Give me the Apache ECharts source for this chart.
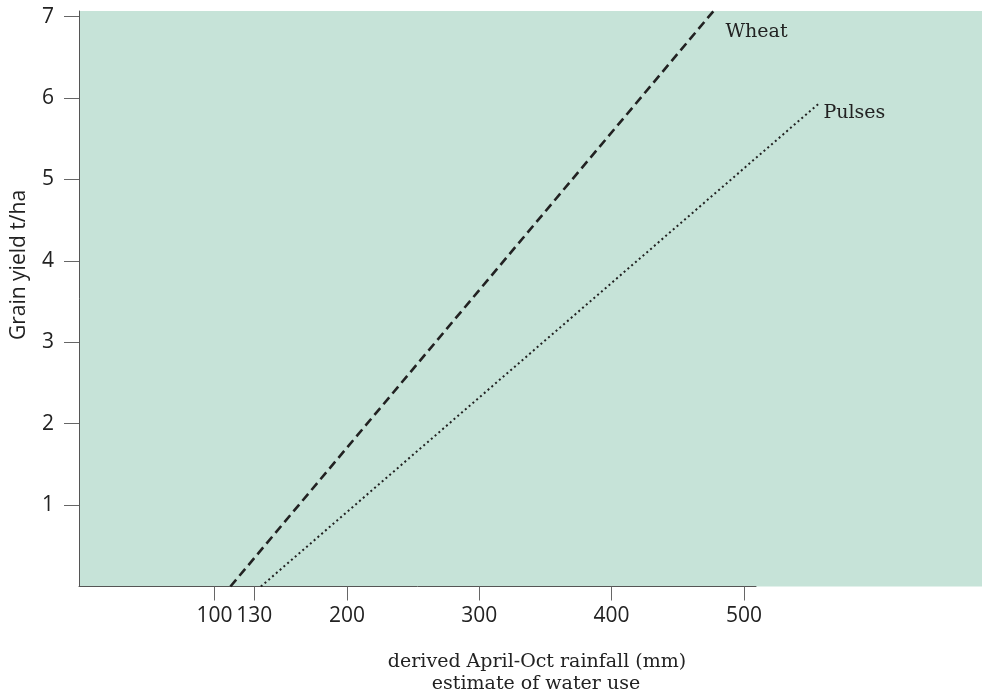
<!DOCTYPE html>
<html>
<head>
<meta charset="utf-8">
<script src="https://cdn.jsdelivr.net/npm/echarts@6/dist/echarts.min.js"></script>
<style>html,body{margin:0;padding:0;background:#fff}#c{width:982px;height:695px}</style>
</head>
<body>
<div id="c"></div>
<script>
// Data
const seriesNames = ['Wheat', 'Pulses'];
const wheatX = [112, 477];
const wheatY = [0, 7.07];
const pulsesX = [135, 557];
const pulsesY = [0, 5.94];
const xTickValues = [100, 130, 200, 300, 400, 500];
const yTickValues = [1, 2, 3, 4, 5, 6, 7];
const xTitleLines = ['derived April-Oct rainfall (mm)', 'estimate of water use'];
const yTitle = 'Grain yield t/ha';

const X_MIN = -2.4, X_MAX_AXIS = 509.1, X_MAX_BG = 679.8;
const Y_MIN = 0, Y_MAX = 7.07;

function pts(xs, ys) { return xs.map((x, i) => [x, ys[i]]); }
function withEndLabel(data, name, offset) {
  return data.map((p, i) => i === data.length - 1
    ? { value: p, label: { show: true, position: 'right', formatter: name, offset: offset,
        fontFamily: 'DejaVu Serif', fontSize: 19, color: '#222' } }
    : { value: p });
}

const chart = echarts.init(document.getElementById('c'), null, { renderer: 'canvas' });
chart.setOption({
  animation: false,
  backgroundColor: '#ffffff',
  grid: [
    { left: 79, right: 0, top: 11, bottom: 108.5, show: true, backgroundColor: '#c6e3d8', borderWidth: 0 },
    { left: 79, right: 226, top: 11, bottom: 108.5, show: false }
  ],
  xAxis: [
    { type: 'value', gridIndex: 0, min: X_MIN, max: X_MAX_BG, show: false, splitLine: { show: false } },
    { type: 'value', gridIndex: 1, min: X_MIN, max: X_MAX_AXIS, splitLine: { show: false },
      axisLine: { show: true, onZero: false, lineStyle: { color: '#555', width: 1 } },
      axisTick: { show: true, length: 14, customValues: xTickValues, lineStyle: { color: '#666', width: 1 } },
      axisLabel: { show: true, customValues: xTickValues, margin: 19, fontFamily: 'Open Sans', fontSize: 21, color: '#222' } }
  ],
  yAxis: [
    { type: 'value', gridIndex: 0, min: Y_MIN, max: Y_MAX, show: false, splitLine: { show: false } },
    { type: 'value', gridIndex: 1, min: Y_MIN, max: Y_MAX, splitLine: { show: false },
      axisLine: { show: true, onZero: false, lineStyle: { color: '#555', width: 1 } },
      axisTick: { show: true, length: 15, customValues: yTickValues, lineStyle: { color: '#666', width: 1 } },
      axisLabel: { show: true, customValues: yTickValues, margin: 25, fontFamily: 'Open Sans', fontSize: 21, color: '#222' } }
  ],
  graphic: [
    { type: 'text', x: 19, y: 265, rotation: Math.PI / 2,
      style: { text: yTitle, fontFamily: 'Open Sans', fontSize: 21, fill: '#222', textAlign: 'center', textVerticalAlign: 'middle' } },
    { type: 'text', x: 537, y: 662,
      style: { text: xTitleLines[0], fontFamily: 'DejaVu Serif', fontSize: 19, fill: '#222', textAlign: 'center', textVerticalAlign: 'middle' } },
    { type: 'text', x: 536, y: 684,
      style: { text: xTitleLines[1], fontFamily: 'DejaVu Serif', fontSize: 19, fill: '#222', textAlign: 'center', textVerticalAlign: 'middle' } }
  ],
  series: [
    { name: seriesNames[0], type: 'line', xAxisIndex: 0, yAxisIndex: 0,
      data: withEndLabel(pts(wheatX, wheatY), seriesNames[0], [7, 21]),
      showSymbol: true, symbolSize: 0, symbol: 'circle',
      lineStyle: { color: '#222', width: 2.6, type: [9, 5] }, itemStyle: { color: '#222' } },
    { name: seriesNames[1], type: 'line', xAxisIndex: 0, yAxisIndex: 0,
      data: withEndLabel(pts(pulsesX, pulsesY), seriesNames[1], [-1, 10]),
      showSymbol: true, symbolSize: 0, symbol: 'circle',
      lineStyle: { color: '#222', width: 2, type: [2, 3] }, itemStyle: { color: '#222' } }
  ]
});
</script>
</body>
</html>
